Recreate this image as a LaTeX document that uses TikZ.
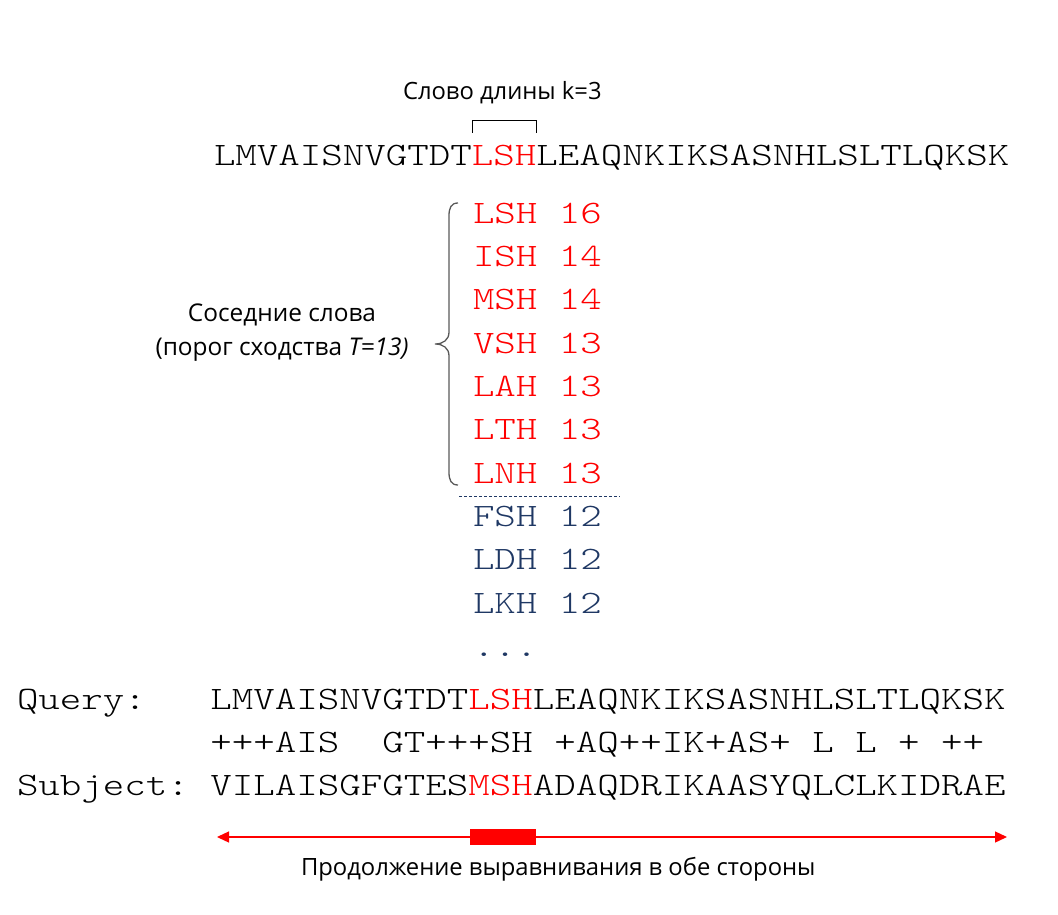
\documentclass[tikz,border=0pt]{standalone}
\usepackage{fontspec}
\setmainfont{Open Sans}
\newfontfamily\seqfont{lmmonolt10-regular.otf}[FakeStretch=1.252]
\usetikzlibrary{arrows.meta}
\definecolor{navy}{RGB}{31,56,100}
\definecolor{bracegray}{RGB}{89,89,89}
\newcommand{\blank}{\hphantom{X}}
\begin{document}
\begin{tikzpicture}[x=1pt,y=-1pt,
  seq/.style={anchor=base west, inner sep=0pt, outer sep=0pt, font=\fontsize{32.7}{40}\seqfont},
  lbl/.style={inner sep=0pt, outer sep=0pt, font=\fontsize{23.8}{28}\selectfont},
  sidelbl/.style={inner sep=0pt, outer sep=0pt, anchor=base, font=\fontsize{24.4}{29}\selectfont},
  hit/.style={seq, text=red},
  miss/.style={seq, text=navy}]
\useasboundingbox (0,0) rectangle (1058,915);
% word length label and bracket
\node[lbl, anchor=base west] (klabel) at (403,100) {Слово длины k=3};
\draw[black, line width=1] (472,133) -- (472,121) -- (536,121) -- (536,133);
% query sequence
\node[seq] (top) at (214,166) {LMVAISNVGTDT\textcolor{red}{LSH}LEAQNKIKSASNHLSLTLQKSK};
% neighbour words
\node[hit] (w1) at (473,223.3) {LSH\blank 16};
\node[hit] (w2) at (473,266.6) {ISH\blank 14};
\node[hit] (w3) at (473,309.9) {MSH\blank 14};
\node[hit] (w4) at (473,353.2) {VSH\blank 13};
\node[hit] (w5) at (473,396.5) {LAH\blank 13};
\node[hit] (w6) at (473,439.8) {LTH\blank 13};
\node[hit] (w7) at (473,483.1) {LNH\blank 13};
\node[miss] (w8) at (473,526.4) {FSH\blank 12};
\node[miss] (w9) at (473,569.7) {LDH\blank 12};
\node[miss] (w10) at (473,613) {LKH\blank 12};
\node[miss] (w11) at (473,656.3) {...};
\draw[navy, line width=1, dash pattern=on 3 off 2] (459,496) -- (620,496);
% brace
\draw[bracegray, line width=1.3] (458,203) .. controls (451,203) and (449,208) .. (449,216)
  -- (449,332) .. controls (449,340) and (443,344) .. (435,344)
  .. controls (443,344) and (449,348) .. (449,356)
  -- (449,472) .. controls (449,480) and (451,485) .. (458,485);
\node[sidelbl] (nb1) at (282,321) {Соседние слова};
\node[sidelbl] (nb2) at (282,355) {(порог сходства \textit{T=13)}};
% alignment
\node[seq] (q) at (17,709) {Query:\blank\blank\blank LMVAISNVGTDT\textcolor{red}{LSH}LEAQNKIKSASNHLSLTLQKSK};
\node[seq] (m) at (17,752.3) {\blank\blank\blank\blank\blank\blank\blank\blank\blank +++AIS\blank\blank GT+++SH\blank +AQ++IK+AS+\blank L\blank L\blank +\blank ++};
\node[seq] (s) at (17,795.6) {Subject:\blank VILAISGFGTES\textcolor{red}{MSH}ADAQDRIKAASYQLCLKIDRAE};
% extension arrow
\coordinate (aL) at (217,837);
\coordinate (aR) at (1007,837);
\draw[red, line width=1.3, {Triangle[length=12,width=11]}-{Triangle[length=12,width=11]}] (aL) -- (aR);
\node[fill=red, draw=none, minimum width=66, minimum height=16, inner sep=0pt] (seed) at (503,837) {};
\node[lbl, anchor=base west] (ext) at (301,875) {Продолжение выравнивания в обе стороны};
\end{tikzpicture}
\end{document}
